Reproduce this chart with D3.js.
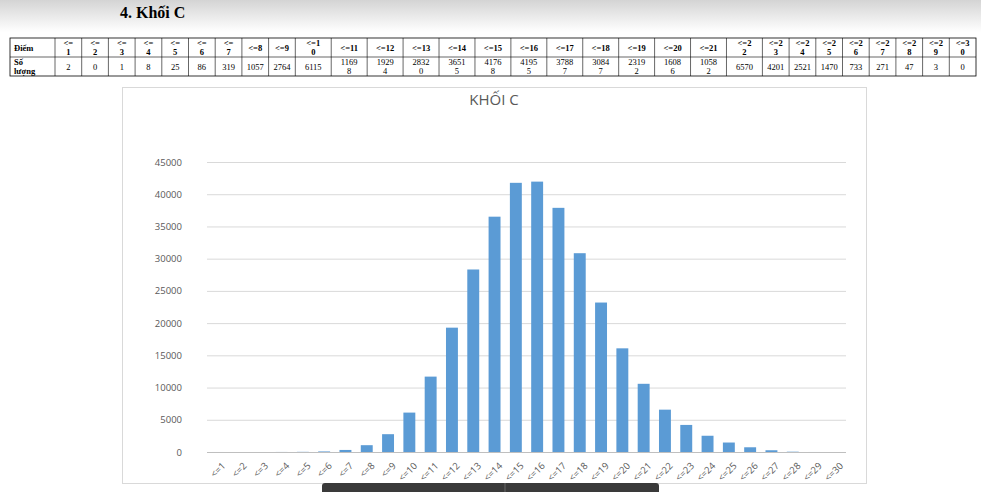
<!DOCTYPE html>
<html><head><meta charset="utf-8">
<script src="https://cdn.jsdelivr.net/npm/d3@7"></script>
<style>body{margin:0;background:#fff;}svg{display:block}</style>
</head><body>
<svg id="c" width="981" height="492"></svg>
<script>
const categories = ["<=1","<=2","<=3","<=4","<=5","<=6","<=7","<=8","<=9","<=10","<=11","<=12","<=13","<=14","<=15","<=16","<=17","<=18","<=19","<=20","<=21","<=22","<=23","<=24","<=25","<=26","<=27","<=28","<=29","<=30"];
const counts = [2,0,1,8,25,86,319,1057,2764,6115,11698,19294,28320,36515,41768,41955,37887,30847,23192,16086,10582,6570,4201,2521,1470,733,271,47,3,0];
const yTicks = [0,5000,10000,15000,20000,25000,30000,35000,40000,45000];
const headerLines = categories.map((c,i)=>{
  const n=i+1;
  if(n<=7) return ["<=",String(n)];
  if(n===10) return ["<=1","0"];
  if(n>=22) return ["<="+String(n)[0], String(n)[1]];
  return [c];
});

const svg = d3.select("#c");
const defs = svg.append("defs");
const g1 = defs.append("linearGradient").attr("id","hd").attr("x1",0).attr("x2",0).attr("y1",0).attr("y2",1);
g1.append("stop").attr("offset","0%").attr("stop-color","#d4d4d4");
g1.append("stop").attr("offset","100%").attr("stop-color","#ffffff");
svg.append("rect").attr("width",981).attr("height",32).attr("fill","url(#hd)");
svg.append("text").attr("x",120).attr("y",18).attr("font-family","Liberation Serif").attr("font-weight","bold")
  .attr("font-size",16).text("4.  Khối C");

// table
const tx0=10, tx1=976, ty0=38, ty1=57, ty2=76;
const shortW=26.7;
const widths=[45];
for(let i=1;i<=30;i++){ widths.push((i<=9||i>=23)?shortW:null); }
const rem=(tx1-tx0)-widths.filter(w=>w).reduce((a,b)=>a+b,0);
const nLong=widths.filter(w=>w===null).length;
for(let i=0;i<widths.length;i++) if(widths[i]===null) widths[i]=rem/nLong;
const xs=[tx0]; widths.forEach(w=>xs.push(xs[xs.length-1]+w));
const tb=svg.append("g").attr("font-family","Liberation Serif").attr("font-size",8.5).attr("fill","#000");
tb.append("rect").attr("x",tx0).attr("y",ty0).attr("width",tx1-tx0).attr("height",ty2-ty0).attr("fill","none").attr("stroke","#000").attr("stroke-width",0.8);
tb.append("line").attr("x1",tx0).attr("x2",tx1).attr("y1",ty1).attr("y2",ty1).attr("stroke","#000").attr("stroke-width",0.6);
xs.slice(1,-1).forEach(x=>tb.append("line").attr("x1",x).attr("x2",x).attr("y1",ty0).attr("y2",ty2).attr("stroke","#000").attr("stroke-width",0.6));
function cell(lines,x0,w,y0,bold,anchor){
  const h=19, lh=9;
  const start=y0+h/2-(lines.length-1)*lh/2+3;
  lines.forEach((l,k)=>tb.append("text").attr("x",anchor==="start"?x0+4:x0+w/2).attr("y",start+k*lh)
    .attr("text-anchor",anchor||"middle").attr("font-weight",bold?"bold":"normal").text(l));
}
cell(["Điểm"],xs[0],widths[0],ty0,true,"start");
cell(["Số","lượng"],xs[0],widths[0],ty1,true,"start");
categories.forEach((c,i)=>{
  cell(headerLines[i],xs[i+1],widths[i+1],ty0,true);
  const v=String(counts[i]);
  cell(v.length>4?[v.slice(0,4),v.slice(4)]:[v],xs[i+1],widths[i+1],ty1,false);
});

// chart
svg.append("rect").attr("x",122.5).attr("y",87.5).attr("width",744).attr("height",396).attr("fill","#fff").attr("stroke","#d9d9d9");
svg.append("text").attr("x",494).attr("y",105).attr("text-anchor","middle").attr("font-family","Open Sans")
  .attr("font-size",15).attr("fill","#595959").text("KHỐI C");
const x=d3.scaleBand().domain(categories).range([207,846]).paddingInner(0.44).paddingOuter(0.22);
const y=d3.scaleLinear().domain([0,45000]).range([452,162]);
const ga=svg.append("g").attr("transform","translate(207,0)")
  .call(d3.axisLeft(y).tickValues(yTicks).tickSize(-(846-207)).tickFormat(d3.format("d")));
ga.select(".domain").remove();
ga.selectAll(".tick line").attr("stroke",d=>d===0?"#bfbfbf":"#d9d9d9");
ga.selectAll(".tick text").attr("x",-25).attr("font-family","Open Sans").attr("font-size",9.5).attr("fill","#595959");
svg.append("g").selectAll("rect").data(counts).join("rect")
  .attr("x",(d,i)=>x(categories[i])).attr("width",x.bandwidth())
  .attr("y",d=>y(d)).attr("height",d=>452-y(d)).attr("fill","#5b9bd5");
const gx=svg.append("g").attr("transform","translate(0,452)").call(d3.axisBottom(x).tickSize(0));
gx.select(".domain").remove();
gx.selectAll(".tick text").attr("font-family","Open Sans").attr("font-size",9.5).attr("fill","#595959")
  .attr("text-anchor","end").attr("transform","translate(4,10) rotate(-45)").attr("dy","0.35em");

// overlay bar at bottom
svg.append("rect").attr("x",322).attr("y",483).attr("width",337).attr("height",12).attr("rx",3).attr("fill","#3a3a3a");
svg.append("line").attr("x1",505).attr("x2",505).attr("y1",483).attr("y2",492).attr("stroke","#666");
</script>
</body></html>
